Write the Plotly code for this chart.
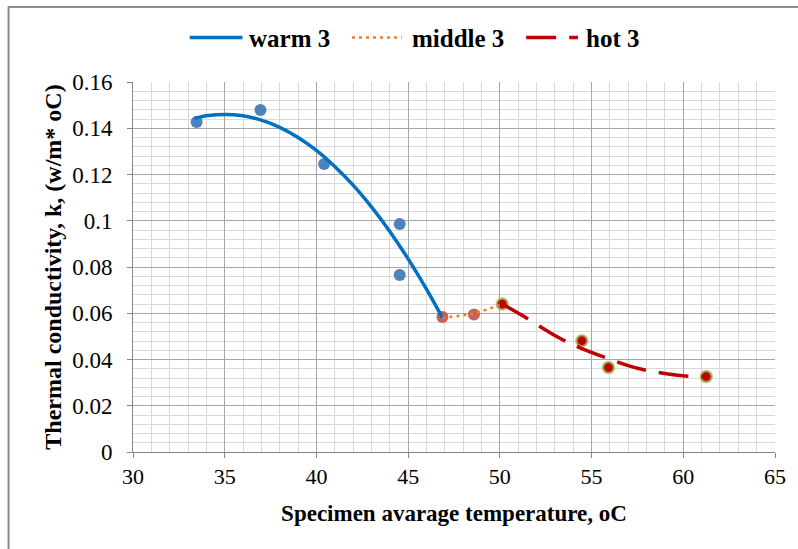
import plotly.graph_objects as go

# --- measured data points ---
warm_x = [33.47, 36.95, 40.42, 44.54, 44.54]
warm_y = [0.1427, 0.1479, 0.1245, 0.0986, 0.0765]

middle_x = [46.87, 48.59, 50.13]
middle_y = [0.0584, 0.0595, 0.0640]

hot_x = [50.13, 54.47, 55.92, 61.25]
hot_y = [0.0640, 0.0481, 0.0365, 0.0326]

# --- trendlines ---
warm_trend_x = [33.36, 34, 35, 36, 37, 38, 39, 40, 41, 42, 43, 44, 45, 46, 46.87]
warm_trend_y = [0.1443, 0.1454, 0.1460, 0.1454, 0.1435, 0.1404, 0.1360, 0.1304,
                0.1235, 0.1154, 0.1060, 0.0954, 0.0835, 0.0704, 0.0580]

middle_trend_x = [46.87, 48.59, 50.13]
middle_trend_y = [0.0580, 0.0600, 0.0640]

hot_trend_x = [50.13, 51.18, 53.17, 54.25, 55.88, 57.51, 59.68, 61.25]
hot_trend_y = [0.0640, 0.0592, 0.0496, 0.0455, 0.0405, 0.0362, 0.0332, 0.0325]

series_names = ["warm 3", "middle 3", "hot 3"]

x_ticks = [30, 35, 40, 45, 50, 55, 60, 65]
y_ticks = [0, 0.02, 0.04, 0.06, 0.08, 0.1, 0.12, 0.14, 0.16]
y_tick_text = ["0", "0.02", "0.04", "0.06", "0.08", "0.1", "0.12", "0.14", "0.16"]

FONT = "Liberation Serif, Times New Roman, serif"
WARM_LINE = dict(color="#0070C0", width=3.5)
MID_LINE = dict(color="#ED7D31", width=2.5, dash="3px,4px")
HOT_LINE = dict(color="#C00000", width=3.5, dash="30px,13px")

# plot-area pixel geometry (for placing the hand-drawn legend)
L, R, T, B, W, H = 133, 20, 82, 97, 798, 549
PW, PH = W - L - R, H - T - B


def px_x(p):
    return (p - L) / PW


def px_y(p):
    return (H - B - p) / PH


fig = go.Figure()

# markers
fig.add_trace(go.Scatter(x=warm_x, y=warm_y, mode="markers", showlegend=False,
                         marker=dict(size=12, color="#4F81BD")))
fig.add_trace(go.Scatter(x=middle_x[:2], y=middle_y[:2], mode="markers", showlegend=False,
                         marker=dict(size=12, color="#C0504D", opacity=0.9)))
fig.add_trace(go.Scatter(x=hot_x, y=hot_y, mode="markers", showlegend=False,
                         marker=dict(size=11, color="#C00000",
                                     line=dict(color="rgba(155,187,89,0.75)", width=2.5))))

# trendlines
fig.add_trace(go.Scatter(x=warm_trend_x, y=warm_trend_y, mode="lines", name=series_names[0],
                         showlegend=False,
                         line=dict(**WARM_LINE, shape="spline", smoothing=0.8)))
fig.add_trace(go.Scatter(x=middle_trend_x, y=middle_trend_y, mode="lines", name=series_names[1],
                         showlegend=False, line=dict(**MID_LINE, shape="spline")))
fig.add_trace(go.Scatter(x=hot_trend_x, y=hot_trend_y, mode="lines", name=series_names[2],
                         showlegend=False, line=dict(**HOT_LINE, shape="spline")))

fig.update_layout(
    width=W, height=H,
    margin=dict(l=L, r=R, t=T, b=B),
    paper_bgcolor="white", plot_bgcolor="white",
    font=dict(family=FONT, color="black", size=22),
    showlegend=False,
)

fig.update_xaxes(
    range=[30, 65], tickvals=x_ticks, ticktext=[str(v) for v in x_ticks],
    showgrid=True, gridcolor="#A6A6A6", gridwidth=1,
    minor=dict(dtick=1, tick0=30, showgrid=True, gridcolor="#D9D9D9", gridwidth=1, ticks=""),
    ticks="outside", ticklen=5, tickcolor="#868686",
    showline=True, linecolor="#868686", linewidth=1,
    zeroline=False,
    tickfont=dict(family=FONT, size=22, color="black"),
    title=dict(text="Specimen avarage temperature, oC", standoff=16,
               font=dict(family=FONT, size=23, color="black", weight="bold")),
)
fig.update_yaxes(
    range=[0, 0.16], tickvals=y_ticks, ticktext=y_tick_text,
    showgrid=True, gridcolor="#A6A6A6", gridwidth=1,
    minor=dict(dtick=0.004, tick0=0, showgrid=True, gridcolor="#D9D9D9", gridwidth=1, ticks=""),
    ticks="outside", ticklen=5, tickcolor="#868686",
    showline=True, linecolor="#868686", linewidth=1,
    zeroline=False, ticklabelstandoff=10,
    tickfont=dict(family=FONT, size=23, color="black"),
    title=dict(text="Thermal conductivity, k, (w/m* oC)", standoff=3,
               font=dict(family=FONT, size=24, color="black", weight="bold")),
)

# outer chart border (left and top visible)
fig.add_shape(type="rect", xref="paper", yref="paper",
              x0=px_x(8), x1=px_x(805), y0=px_y(560), y1=px_y(7),
              line=dict(color="#8C8C8C", width=2), layer="below")

# hand-drawn legend (line samples + labels)
leg_y = px_y(37.5)
legend_items = [
    (190, 243, 248, WARM_LINE, series_names[0]),
    (353, 403, 411, MID_LINE, series_names[1]),
    (528, 580, 586, HOT_LINE, series_names[2]),
]
for x0, x1, tx, style, label in legend_items:
    fig.add_shape(type="line", xref="paper", yref="paper",
                  x0=px_x(x0), x1=px_x(x1), y0=leg_y, y1=leg_y, line=style)
    fig.add_annotation(xref="paper", yref="paper", x=px_x(tx), y=px_y(38.5),
                       xanchor="left", yanchor="middle", showarrow=False, text=label,
                       font=dict(family=FONT, size=25, color="black", weight="bold"))

fig.write_html("out.html", post_script="document.body.style.margin='0';",
               config={"displayModeBar": False})
